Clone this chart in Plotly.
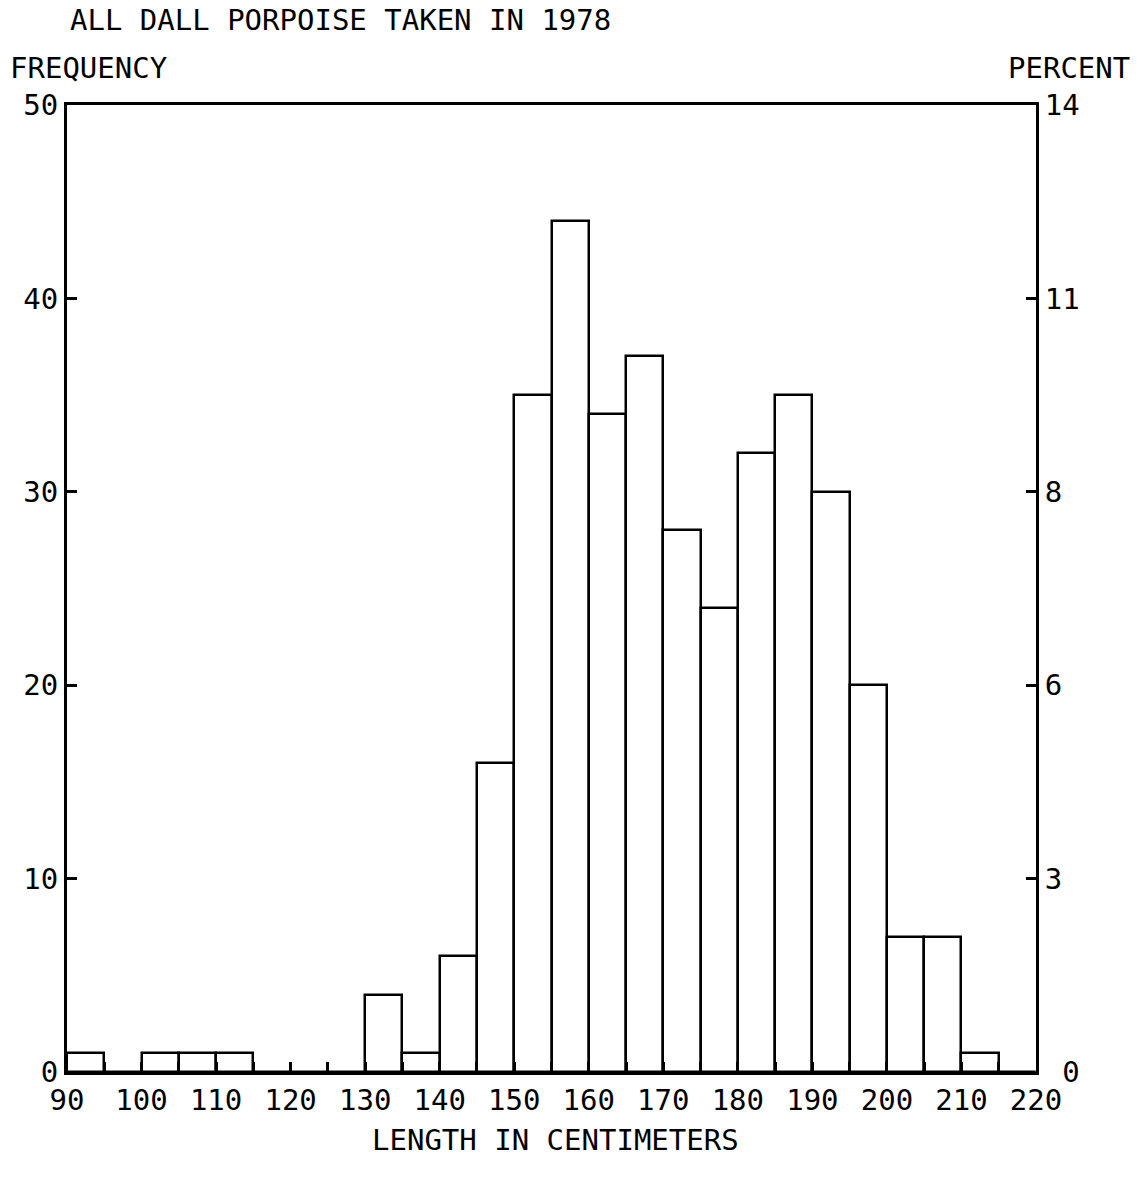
import plotly.graph_objects as go

bin_starts = [90, 95, 100, 105, 110, 115, 120, 125, 130, 135, 140, 145, 150, 155,
              160, 165, 170, 175, 180, 185, 190, 195, 200, 205, 210, 215]
frequency = [1, 0, 1, 1, 1, 0, 0, 0, 4, 1, 6, 16, 35, 44,
             34, 37, 28, 24, 32, 35, 30, 20, 7, 7, 1, 0]
bin_width = 5
x_ticks = [90, 100, 110, 120, 130, 140, 150, 160, 170, 180, 190, 200, 210, 220]
freq_ticks = [0, 10, 20, 30, 40, 50]
pct_max = 14

title_text = "ALL DALL PORPOISE TAKEN IN 1978"
y_left_title = "FREQUENCY"
y_right_title = "PERCENT"
x_title = "LENGTH IN CENTIMETERS"

FONT = "DejaVu Sans Mono"
FS = 29

centers = [s + bin_width / 2 for s in bin_starts]
pct_tickvals = [v / freq_ticks[-1] * pct_max for v in freq_ticks]
pct_ticktext = [str(round(v)) for v in pct_tickvals]
# the bottom right label sits a little to the right, clear of the x labels
pct_ticktext[0] = "\u00a0" + pct_ticktext[0]

fig = go.Figure()
fig.add_trace(go.Bar(
    x=centers, y=frequency, width=[bin_width] * len(centers),
    marker=dict(color="white", line=dict(color="black", width=2.5)),
    showlegend=False, hoverinfo="skip",
))
# invisible trace to activate right axis
fig.add_trace(go.Scatter(x=[90], y=[0], yaxis="y2", mode="markers",
                         marker=dict(opacity=0), showlegend=False, hoverinfo="skip"))

fig.update_layout(
    width=1142, height=1182,
    margin=dict(l=67, r=106, t=105, b=110),
    paper_bgcolor="white", plot_bgcolor="white",
    font=dict(family=FONT, size=FS, color="black"),
    bargap=0,
    xaxis=dict(
        range=[90, 220], tickvals=x_ticks, ticktext=[str(v) for v in x_ticks],
        ticks="inside", ticklen=10, tickwidth=2.5, tickcolor="black",
        minor=dict(dtick=5, tick0=90, ticks="inside", ticklen=10, tickwidth=2.5, tickcolor="black"),
        showline=True, linecolor="black", linewidth=3, mirror=True,
        showgrid=False, zeroline=False,
        tickfont=dict(family=FONT, size=FS),
    ),
    yaxis=dict(
        range=[0, 50], tickvals=freq_ticks,
        ticks="inside", ticklen=10, tickwidth=2.5, tickcolor="black",
        showline=True, linecolor="black", linewidth=3,
        showgrid=False, zeroline=False,
        tickfont=dict(family=FONT, size=FS),
    ),
    yaxis2=dict(
        range=[0, pct_max], overlaying="y", side="right",
        tickvals=pct_tickvals, ticktext=pct_ticktext,
        ticks="inside", ticklen=10, tickwidth=2.5, tickcolor="black",
        showline=True, linecolor="black", linewidth=3,
        showgrid=False, zeroline=False,
        tickfont=dict(family=FONT, size=FS),
    ),
    annotations=[
        dict(text=title_text, x=68, y=20,
             showarrow=False, xanchor="left", yanchor="middle"),
        dict(text=y_left_title, x=8, y=68, xanchor="left", yanchor="middle", showarrow=False),
        dict(text=y_right_title, x=1132, y=68, xanchor="right", yanchor="middle", showarrow=False),
        dict(text=x_title, x=555, y=1140, xanchor="center", yanchor="middle", showarrow=False),
    ],
)

# convert annotation pixel positions to paper coordinates
W, H = 1142, 1182
l, r, t, b = 67, 106, 105, 110
pw, ph = W - l - r, H - t - b
new_ann = []
for a in fig.layout.annotations:
    a.xref = "paper"; a.yref = "paper"
    a.x = (a.x - l) / pw
    a.y = 1 - (a.y - t) / ph
    new_ann.append(a)
fig.layout.annotations = new_ann

fig.write_html("out.html")
